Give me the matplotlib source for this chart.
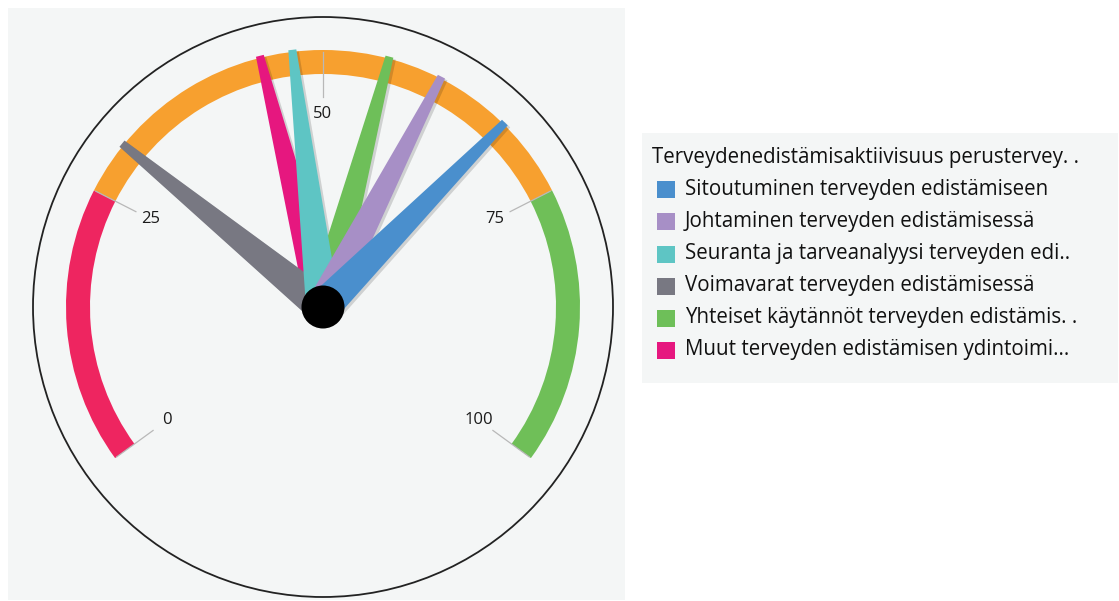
import numpy as np
import matplotlib
matplotlib.use("Agg")
import matplotlib.pyplot as plt
from matplotlib.patches import Polygon, Wedge, Circle, Rectangle

# ---- data ----
legend_title = "Terveydenedistämisaktiivisuus perustervey. ."
series = [
    "Sitoutuminen terveyden edistämiseen",
    "Johtaminen terveyden edistämisessä",
    "Seuranta ja tarveanalyysi terveyden edi..",
    "Voimavarat terveyden edistämisessä",
    "Yhteiset käytännöt terveyden edistämis. .",
    "Muut terveyden edistämisen ydintoimi...",
]
values = [67.7, 60.8, 47.3, 29.8, 55.9, 44.4]
series_colors = ["#4a8fcd", "#a78fc6", "#5ec5c4", "#787882", "#6ebf59", "#e6177f"]
band_edges = [0, 25, 75, 100]
band_colors = ["#ee2560", "#f7a02f", "#6fbf58"]
tick_values = [0, 25, 50, 75, 100]

# ---- layout ----
W, H = 1119, 601
fig = plt.figure(figsize=(W / 100, H / 100), dpi=100)
ax = fig.add_axes([0, 0, 1, 1])
ax.set_xlim(0, W)
ax.set_ylim(0, H)
ax.axis("off")

FONT = "Open Sans"
cx, cy = 323, H - 307
R_OUT, BAND_W = 257, 24
START, SPAN = 216.0, 252.0


def ang(v):
    return START - SPAN * v / 100.0


def pt(r, a_deg):
    a = np.deg2rad(a_deg)
    return cx + r * np.cos(a), cy + r * np.sin(a)


# panel background
ax.add_patch(Rectangle((8, H - 600), 617, 592, facecolor="#f4f6f6", edgecolor="none", zorder=0))
# outer circle
ax.add_patch(Circle((cx, cy), 290, facecolor="none", edgecolor="#222222", lw=1.3, zorder=1))

# bands
for i, c in enumerate(band_colors):
    ax.add_patch(Wedge((cx, cy), R_OUT, ang(band_edges[i + 1]), ang(band_edges[i]),
                       width=BAND_W, facecolor=c, edgecolor="none", zorder=2))

# ticks and labels
for t in tick_values:
    a = ang(t)
    x0, y0 = pt(210, a)
    x1, y1 = pt(255, a)
    ax.plot([x0, x1], [y0, y1], color="#b8b8b8", lw=0.9, zorder=3)
    lx, ly = pt(193, a)
    ax.text(lx, ly, str(t), ha="center", va="center", fontsize=12, family=FONT,
            color="#1a1a1a", zorder=3)

# needles (drawn in reverse order so the first series is on top)
R_TIP, HW0, HW1 = 259, 17, 4
for v, c in list(zip(values, series_colors))[::-1]:
    a = np.deg2rad(ang(v))
    d = np.array([np.cos(a), np.sin(a)])
    n = np.array([-np.sin(a), np.cos(a)])
    c0 = np.array([cx, cy])
    tip = c0 + d * R_TIP
    poly = [c0 + n * HW0, tip + n * HW1, tip - n * HW1, c0 - n * HW0]
    shadow = [p + np.array([2.5, -2.0]) for p in poly]
    ax.add_patch(Polygon(shadow, closed=True, facecolor="#000000", alpha=0.15,
                         edgecolor="none", zorder=4))
    ax.add_patch(Polygon(poly, closed=True, facecolor=c, edgecolor="none", zorder=5))

# hub
ax.add_patch(Circle((cx, cy), 21.5, facecolor="black", edgecolor="none", zorder=6))

# legend box
ax.add_patch(Rectangle((642, H - 383), 476, 250, facecolor="#f4f6f6", edgecolor="none", zorder=0))
ax.text(652, H - 158, legend_title, ha="left", va="center", fontsize=14.8, family=FONT,
        color="#111111")
row_y = [189, 221, 254, 286, 318, 350]
for name, c, y in zip(series, series_colors, row_y):
    ax.add_patch(Rectangle((657, H - y - 8.5), 18, 17, facecolor=c, edgecolor="none"))
    ax.text(685, H - y, name, ha="left", va="center", fontsize=14.8, family=FONT,
            color="#111111")

fig.savefig("out.png", dpi=100, facecolor="white")
